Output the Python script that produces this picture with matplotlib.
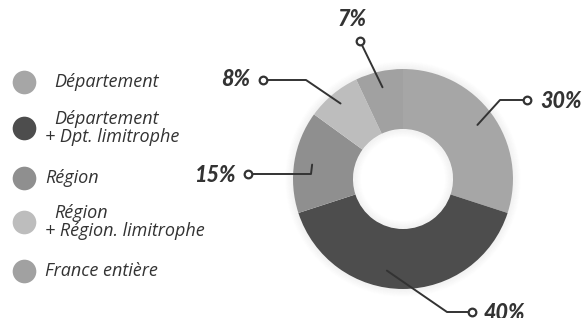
import numpy as np
import matplotlib

matplotlib.use("Agg")
import matplotlib.pyplot as plt
from matplotlib.patches import Wedge

W, H = 587, 318

# ---- data ----
categories = ["Département", "Département\n+ Dpt. limitrophe", "Région",
              "Région\n+ Région. limitrophe", "France entière"]
values = [30, 40, 15, 8, 7]
colors = ["#a6a6a6", "#4d4d4d", "#8f8f8f", "#bdbdbd", "#a1a1a1"]

TXT = "#333333"
CX, CY, R, HOLE = 403, 179, 110, 50


def px(x, y):
    """pixel (top-left origin) -> data coords"""
    return x, H - y


fig = plt.figure(figsize=(W / 100, H / 100), dpi=100)
ax = fig.add_axes([0, 0, 1, 1])

# soft shadow around the ring and inside the hole
for k in range(1, 9):
    ax.add_patch(Wedge(px(CX, CY), R + k, 0, 360, width=1.2, color="black",
                       alpha=0.05 * (1 - k / 9), lw=0))
    ax.add_patch(Wedge(px(CX, CY), HOLE - k + 1, 0, 360, width=1.2, color="black",
                       alpha=0.05 * (1 - k / 9), lw=0))

wedges, _ = ax.pie(values, colors=colors, startangle=90, counterclock=False,
                   center=px(CX, CY), radius=R,
                   wedgeprops=dict(width=R - HOLE, linewidth=0))

# ---- leader lines + labels ----
# (angle offset deg, radius of start, elbow px, end px, text px, ha)
leaders = [
    (0, 92, (500, 100), (527, 100), (540, 101), "left"),
    (-10, 93, (447, 312), (472, 312), (484, 313), "left"),
    (0, 92, (311, 174), (248, 174), (236, 175), "right"),
    (0, 98, (306, 80), (263, 80), (250, 80), "right"),
    (0, 94, (360, 41), (360, 41), (352, 20), "center"),
]
cum = np.cumsum([0] + values)
for i, (v, (off, rr, elbow, end, tpos, ha)) in enumerate(zip(values, leaders)):
    mid = 90 - 360 * (cum[i] + v / 2) / 100 + off
    sx = CX + rr * np.cos(np.radians(mid))
    sy = CY - rr * np.sin(np.radians(mid))
    xs = [sx, elbow[0], end[0]]
    ys = [sy, elbow[1], end[1]]
    ax.plot(xs, [H - y for y in ys], color=TXT, lw=1.4, solid_capstyle="round")
    ax.plot(*px(*end), marker="o", ms=5.5, mfc="white", mec=TXT, mew=1.6)
    ax.text(*px(*tpos), f"{v}%", ha=ha, va="center", fontsize=15.5,
            fontweight="black", fontstyle="italic", color=TXT, family="Lato")

# ---- legend ----
leg_y = [82, 128, 178, 222, 271]
LF = dict(fontsize=13, fontstyle="italic", color=TXT, family="Open Sans")
for lab, col, y in zip(categories, colors, leg_y):
    ax.scatter(*px(23.5, y), s=290, color=col, lw=0)
    if "\n" in lab:
        top, bot = lab.split("\n")
        ax.text(*px(54, y - 9), top, ha="left", va="center", **LF)
        ax.text(*px(45, y + 9), bot, ha="left", va="center", **LF)
    else:
        ax.text(*px(54 if y == 82 else 45, y), lab, ha="left", va="center", **LF)

ax.set_xlim(0, W)
ax.set_ylim(0, H)
ax.set_aspect("auto")
ax.axis("off")

fig.savefig("out.png", dpi=100)
